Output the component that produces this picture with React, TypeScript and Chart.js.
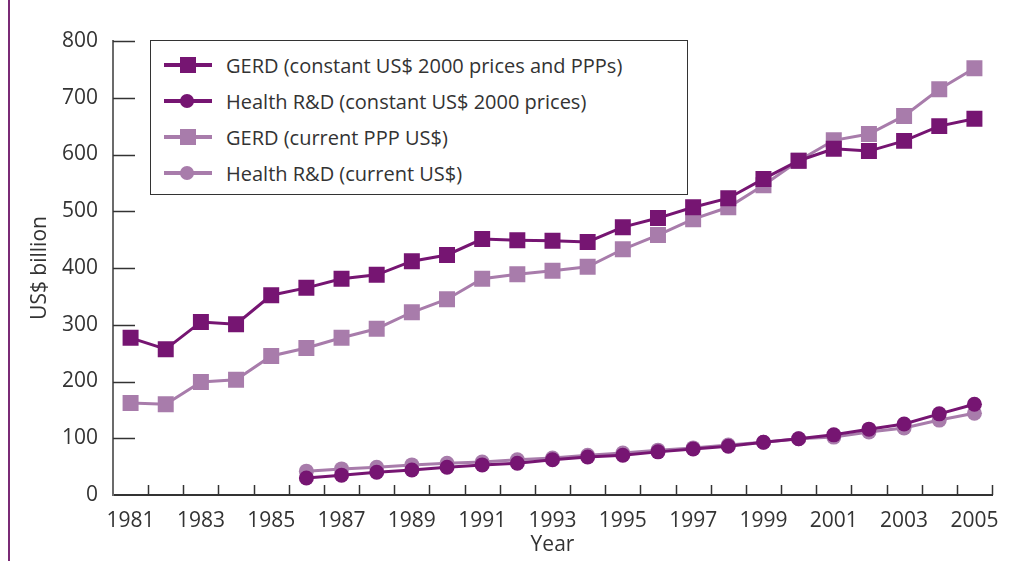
import React, { useEffect, useRef } from 'react';
import { Chart, registerables } from 'chart.js';

Chart.register(...registerables);

const years = ['1981','1982','1983','1984','1985','1986','1987','1988','1989','1990','1991','1992','1993','1994','1995','1996','1997','1998','1999','2000','2001','2002','2003','2004','2005'];
const labelledYears = ['1981','1983','1985','1987','1989','1991','1993','1995','1997','1999','2001','2003','2005'];

const gerdConstant = [277, 257, 305, 301, 352, 365, 381, 388, 412, 423, 451, 449, 448, 446, 472, 488, 507, 523, 557, 589, 610, 606, 624, 650, 663];
const healthConstant = [null, null, null, null, null, 30, 35, 40, 44, 49, 53, 56, 62, 67, 70, 76, 81, 86, 93, 99, 106, 116, 125, 143, 160];
const gerdCurrent = [162, 160, 199, 203, 245, 259, 277, 293, 322, 345, 381, 389, 395, 402, 433, 458, 486, 507, 546, 589, 625, 636, 668, 715, 752];
const healthCurrent = [null, null, null, null, null, 42, 46, 49, 53, 56, 58, 62, 65, 70, 74, 79, 83, 88, 93, 99, 102, 111, 118, 132, 144];

const seriesNames = [
  'GERD (constant US$ 2000 prices and PPPs)',
  'Health R&D (constant US$ 2000 prices)',
  'GERD (current PPP US$)',
  'Health R&D (current US$)',
];

const DARK = '#761572';
const LIGHT = '#A87CAB';
const TEXT = '#333333';
const FONT = "'Open Sans', 'DejaVu Sans', sans-serif";

const innerTicks = {
  id: 'innerTicks',
  beforeDatasetsDraw(chart: any) {
    const { ctx, chartArea, scales } = chart;
    const x = scales.x;
    const y = scales.y;
    ctx.save();
    ctx.strokeStyle = '#333333';
    ctx.lineWidth = 1.5;
    y.ticks.forEach((t: any) => {
      if (t.value === 0) return;
      const py = Math.round(y.getPixelForValue(t.value)) + 0.5;
      ctx.beginPath();
      ctx.moveTo(chartArea.left, py);
      ctx.lineTo(chartArea.left + 22, py);
      ctx.stroke();
    });
    const step = x.getPixelForValue(1) - x.getPixelForValue(0);
    for (let i = 0; i < years.length; i++) {
      const px = Math.round(x.getPixelForValue(i) + step / 2) + 0.5;
      ctx.beginPath();
      ctx.moveTo(px, chartArea.bottom);
      ctx.lineTo(px, chartArea.bottom - 10);
      ctx.stroke();
    }
    ctx.restore();
  },
};

function LegendRow({ color, shape, text }: { color: string; shape: 'square' | 'circle'; text: string }) {
  return (
    <div style={{ height: 36, display: 'flex', alignItems: 'center' }}>
      <div style={{ position: 'relative', width: 48, height: 16, marginLeft: 13, marginRight: 14 }}>
        <div style={{ position: 'absolute', left: 0, right: 0, top: 6, height: 4, background: color }} />
        <div
          style={{
            position: 'absolute',
            left: 16,
            top: shape === 'square' ? 0 : 1,
            width: shape === 'square' ? 16 : 14,
            height: shape === 'square' ? 16 : 14,
            borderRadius: shape === 'circle' ? '50%' : 0,
            background: color,
          }}
        />
      </div>
      <span style={{ fontFamily: FONT, fontSize: 20, color: TEXT, whiteSpace: 'nowrap' }}>{text}</span>
    </div>
  );
}

export default function App() {
  const canvasRef = useRef<HTMLCanvasElement | null>(null);

  useEffect(() => {
    if (!canvasRef.current) return;
    const common = { borderWidth: 3, pointBorderWidth: 0, spanGaps: false };
    const chart = new Chart(canvasRef.current, {
      type: 'line',
      data: {
        labels: years,
        datasets: [
          { ...common, label: seriesNames[0], data: gerdConstant, borderColor: DARK, backgroundColor: DARK, pointStyle: 'rect', pointRadius: 11.3 },
          { ...common, label: seriesNames[1], data: healthConstant, borderColor: DARK, backgroundColor: DARK, pointStyle: 'circle', pointRadius: 7.5 },
          { ...common, label: seriesNames[2], data: gerdCurrent, borderColor: LIGHT, backgroundColor: LIGHT, pointStyle: 'rect', pointRadius: 11.3 },
          { ...common, label: seriesNames[3], data: healthCurrent, borderColor: LIGHT, backgroundColor: LIGHT, pointStyle: 'circle', pointRadius: 7.5 },
        ] as any,
      },
      options: {
        responsive: false,
        animation: false,
        layout: { padding: { left: 0, right: 28, top: 41, bottom: 0 } },
        plugins: { legend: { display: false }, tooltip: { enabled: false } },
        scales: {
          x: {
            type: 'category',
            offset: true,
            grid: { display: false, drawTicks: false, offset: true },
            border: { display: true, color: '#333333', width: 2 },
            ticks: {
              autoSkip: false,
              maxRotation: 0,
              padding: 13,
              color: TEXT,
              font: { family: FONT, size: 21 },
              callback: (_v: any, i: number) => (labelledYears.includes(years[i]) ? years[i] : ''),
            },
            title: { display: true, text: 'Year', color: TEXT, font: { family: FONT, size: 21 }, padding: { top: 0, bottom: 3 } },
            afterFit: (s: any) => { s.height = 66; },
          },
          y: {
            min: 0,
            max: 800,
            grid: { display: false, drawTicks: false },
            border: { display: true, color: '#6b6b6b', width: 2 },
            ticks: { stepSize: 100, padding: 15, color: TEXT, font: { family: FONT, size: 21 } },
            title: { display: true, text: 'US$ billion', color: TEXT, font: { family: FONT, size: 21 }, padding: { top: 27, bottom: 0 } },
            afterFit: (s: any) => { s.width = 113; },
          },
        },
      },
      plugins: [innerTicks],
    });
    return () => chart.destroy();
  }, []);

  return (
    <div style={{ position: 'absolute', left: 0, top: 0, width: 1020, height: 561, background: '#ffffff', overflow: 'hidden' }}>
      <div style={{ position: 'absolute', left: 8, top: 0, width: 2, height: 561, background: '#7a2a75' }} />
      <canvas ref={canvasRef} width={1020} height={561} style={{ position: 'absolute', left: 0, top: 0 }} />
      <div
        style={{
          position: 'absolute',
          left: 150,
          top: 40,
          width: 538,
          height: 155,
          border: '1px solid #333333',
          background: '#ffffff',
          boxSizing: 'border-box',
          paddingTop: 6,
        }}
      >
        <LegendRow color={DARK} shape="square" text={seriesNames[0]} />
        <LegendRow color={DARK} shape="circle" text={seriesNames[1]} />
        <LegendRow color={LIGHT} shape="square" text={seriesNames[2]} />
        <LegendRow color={LIGHT} shape="circle" text={seriesNames[3]} />
      </div>
    </div>
  );
}
